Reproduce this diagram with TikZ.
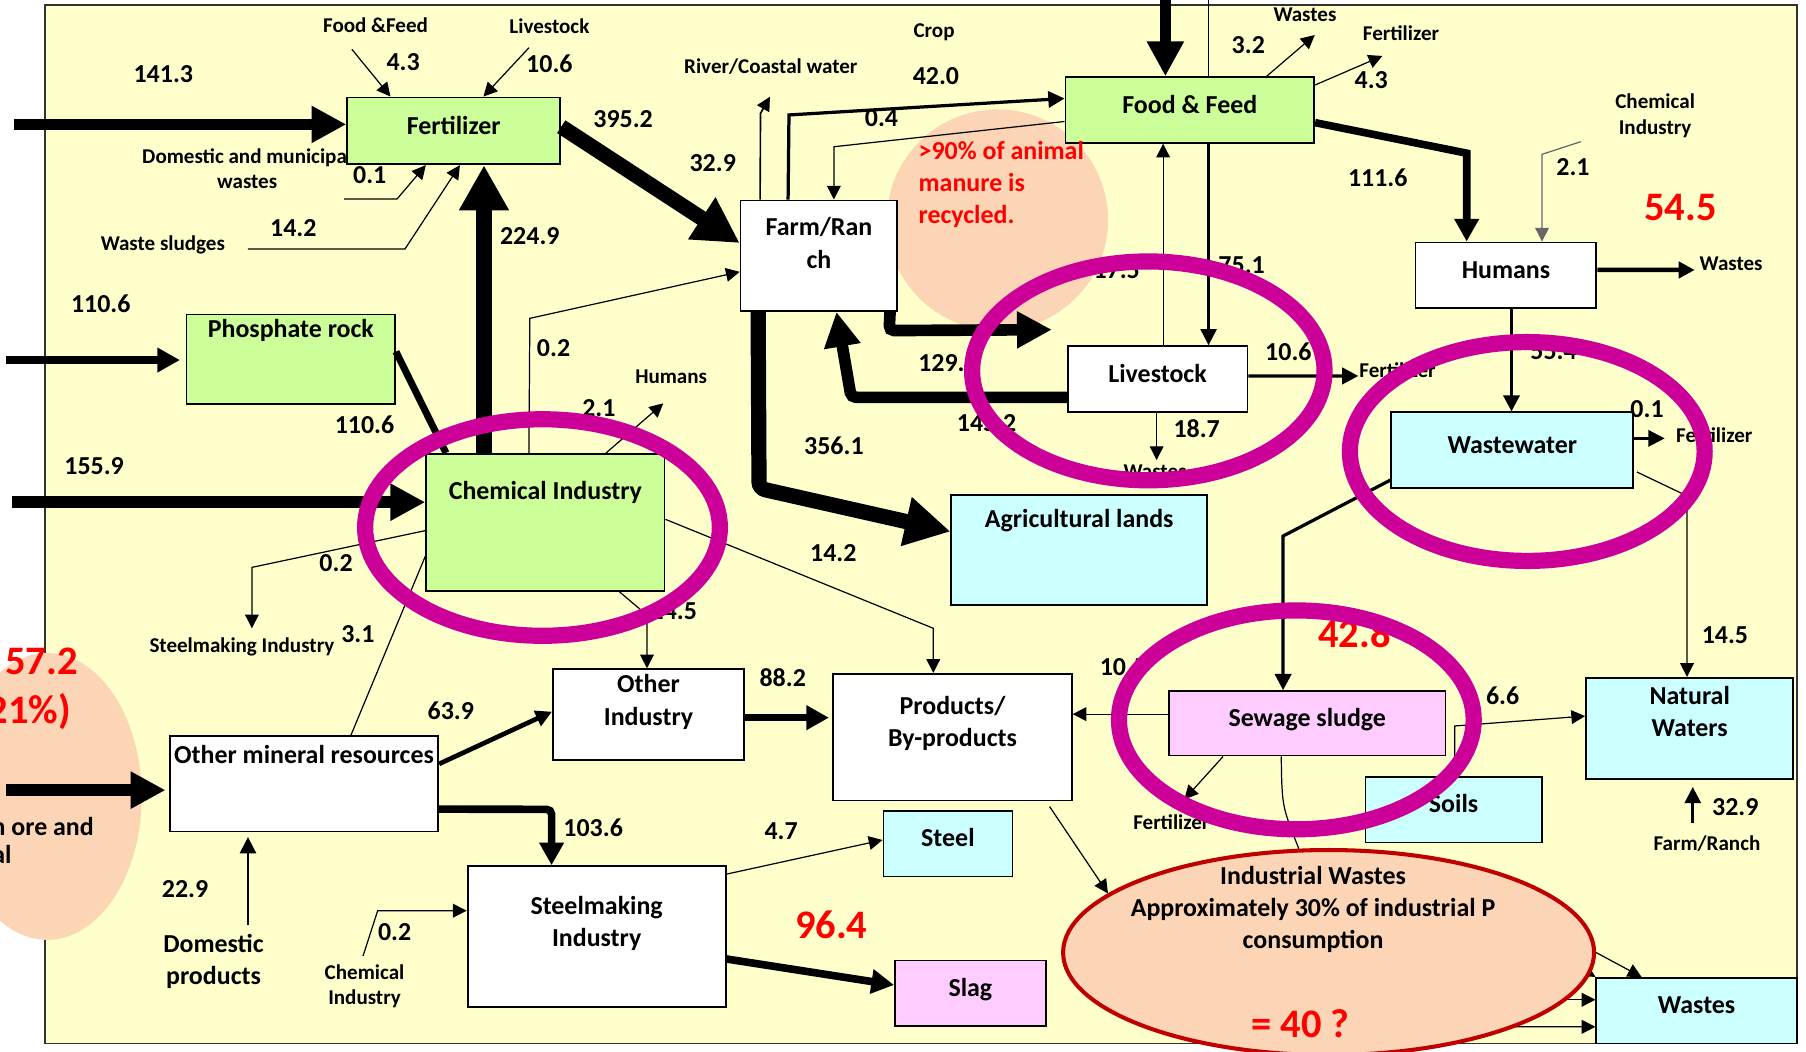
\documentclass[tikz,border=0pt]{standalone}
\usepackage{fontspec}
\setmainfont{Carlito}
\usetikzlibrary{arrows.meta, positioning, calc, shapes.geometric}

\definecolor{bgyellow}{HTML}{FFFFCC}
\definecolor{boxgreen}{HTML}{CCFF99}
\definecolor{boxcyan}{HTML}{CCFFFF}
\definecolor{boxpink}{HTML}{FFCCFF}
\definecolor{peach}{HTML}{FBD5B5}
\definecolor{ringmag}{HTML}{CC0099}
\definecolor{darkred}{HTML}{C00000}

\newcommand{\pNodeFont}{\fontsize{16}{19.9}\selectfont\bfseries}
\newcommand{\pTagFont}{\fontsize{13}{15.6}\selectfont\bfseries}
\newcommand{\pHotFont}{\fontsize{25}{30}\selectfont\bfseries}

\begin{document}
\begin{tikzpicture}[
  x=0.025cm, y=-0.025cm,
  sz/.style 2 args={minimum width=#1*0.025cm, minimum height=#2*0.025cm},
  box/.style={rectangle, draw, line width=1.1pt, inner sep=0pt, align=center, font=\pNodeFont, text height=11pt, text depth=7pt},
  greenbox/.style={box, fill=boxgreen},
  cyanbox/.style={box, fill=boxcyan},
  pinkbox/.style={box, fill=boxpink},
  whitebox/.style={box, fill=white},
  num/.style={inner sep=0pt, align=center, font=\pNodeFont},
  tag/.style={inner sep=0pt, align=center, font=\pTagFont},
  hot/.style={inner sep=0pt, text=red, font=\pHotFont},
  thinline/.style={line width=0.75pt},
  thickline/.style={line width=4.3pt},
  thinarrow/.style={line width=0.75pt, -{Triangle[length=8.5pt, width=8.5pt]}},
  medarrow/.style={line width=2pt, -{Triangle[length=10pt, width=10pt]}},
  thickarrow/.style={line width=4.7pt, -{Triangle[length=14pt, width=14.5pt]}},
  heavyarrow/.style={line width=7.2pt, -{Triangle[length=21.5pt, width=21.5pt]}},
  hugearrow/.style={line width=9.4pt, -{Triangle[length=28pt, width=29pt]}},
  ring/.style={draw=ringmag, line width=10pt}
]
\useasboundingbox (0,0) rectangle (1568,913);

% Background
\draw[fill=bgyellow, draw=black!80, line width=1.2pt] (39,4) rectangle (1560,906);
\fill[peach] (866,191) circle [radius=96];
\fill[peach] (41,691.5) ellipse [x radius=82, y radius=124.5];

\node[tag] (tDomWaste) at (214.6,146.5) {Domestic and municipal\\wastes};

% Boxes
\node[greenbox, sz={185}{58}] (fert) at (394,113.6) {Fertilizer};
\node[greenbox, sz={181}{78}] (phos) at (252.5,312) {};
\node[greenbox, sz={207}{119}] (chem) at (473.5,453.5) {};
\node[whitebox, sz={136}{96}] (farm) at (711,222) {};
\node[greenbox, sz={216}{57}] (food) at (1033,95.5) {Food \& Feed};
\node[whitebox, sz={156}{57}] (live) at (1005,329) {Livestock};
\node[whitebox, sz={157}{57}] (hum) at (1307.5,239) {Humans};
\node[cyanbox, sz={210}{66}] (ww) at (1313,391) {Wastewater};
\node[cyanbox, sz={222}{95}] (agri) at (937,477.5) {};
\node[pinkbox, sz={240}{56}] (sew) at (1135,628) {Sewage sludge};
\node[cyanbox, sz={180}{88}] (nat) at (1467,632.5) {};
\node[cyanbox, sz={153}{57}] (soil) at (1262,703) {Soils};
\node[whitebox, sz={207}{110}] (prod) at (827,640) {};
\node[whitebox, sz={166}{79}] (oind) at (563,620.5) {};
\node[whitebox, sz={233}{83}] (omr) at (264,680.5) {};
\node[whitebox, sz={224}{122}] (smind) at (518,813) {};
\node[cyanbox, sz={112}{57}] (steel) at (823,732.5) {Steel};
\node[pinkbox, sz={131}{57}] (slag) at (842.5,862.5) {Slag};
\node[cyanbox, sz={174}{57}] (wst) at (1473,877.5) {Wastes};

% Box texts set near the top
\node[num] (tPhos) at ($(phos.north)+(0,15)$) {Phosphate rock};
\node[num] (tChem) at ($(chem.north)+(0,34)$) {Chemical Industry};
\node[num] (tFarm) at ($(farm.north)+(0,37.7)$) {Farm/Ran\\ch};
\node[num] (tAgri) at ($(agri.north)+(0,23)$) {Agricultural lands};
\node[num] (tNat) at ($(nat.north)+(0,29.8)$) {Natural\\Waters};
\node[num] (tProd) at ($(prod.north)+(0,43.8)$) {Products/\\By-products};
\node[num] (tOind) at ($(oind.north)+(0,29.2)$) {Other\\Industry};
\node[num] (tOmr) at ($(omr.north)+(0,16.5)$) {Other mineral resources};
\node[num] (tSmind) at ($(smind.north)+(0,50.3)$) {Steelmaking\\Industry};

% Labels
\node[num] (v1413) at (141.8,64.2) {141.3};
\node[tag] (tFF) at (326,21.7) {Food \&Feed};
\node[num] (v43a) at (350,53.5) {4.3};
\node[tag] (tLs) at (477,23) {Livestock};
\node[num] (v106a) at (477,55.6) {10.6};
\node[num] (v01a) at (321,152) {0.1};
\node[tag] (tWS) at (141.4,212.7) {Waste sludges};
\node[num] (v142a) at (254.7,198.2) {14.2};
\node[num] (v2249) at (460,205) {224.9};
\node[num] (v3952) at (541,103) {395.2};
\node[num] (v1106a) at (87.5,263.3) {110.6};
\node[num] (v1106b) at (316.5,369) {110.6};
\node[num] (v1559) at (81.7,404.6) {155.9};
\node[num] (v02a) at (480.6,302.4) {0.2};
\node[num] (v21a) at (520,354.5) {2.1};
\node[tag] (tHum) at (582.7,327) {Humans};
\node[num] (v02b) at (291.8,489) {0.2};
\node[tag] (tSI) at (210,561.4) {Steelmaking Industry};
\node[num] (v31) at (310.7,550.5) {3.1};
\node[num] (v145a) at (585,531) {14.5};
\node[num] (v142b) at (723.5,480.4) {14.2};
\node[tag] (tRiver) at (669.2,57.9) {River/Coastal water};
\node[num] (v329a) at (618.8,141.8) {32.9};
\node[tag] (tCrop) at (811,28.4) {Crop};
\node[num] (v420) at (812.6,66) {42.0};
\node[num] (v04) at (765.3,102.7) {0.4};
\node[num] (v3561) at (724,387) {356.1};
\node[num, anchor=west] (v129) at (797,315) {129.5};
\node[num] (v14x2) at (856.6,367.5) {145.2};
\node[num] (v175) at (969.5,234.4) {17.5};
\node[num] (v751) at (1078,230) {75.1};
\node[tag] (tWa) at (1133,13) {Wastes};
\node[num] (v32) at (1083.8,39) {3.2};
\node[tag] (tFa) at (1216.4,29) {Fertilizer};
\node[num] (v43b) at (1190.5,69.5) {4.3};
\node[num] (v1116) at (1196.2,154) {111.6};
\node[tag] (tChemR) at (1437,100.5) {Chemical\\Industry};
\node[num] (v21b) at (1365.7,144.7) {2.1};
\node[tag] (tWb) at (1503,229) {Wastes};
\node[num] (v106b) at (1118.6,305.3) {10.6};
\node[tag, anchor=west] (tFb) at (1180,321.2) {Fertilizer};
\node[num] (v187) at (1039,372.5) {18.7};
\node[tag] (tWc) at (1002.8,409.5) {Wastes};
\node[num] (v554) at (1348.8,305.3) {55.4};
\node[num] (v01b) at (1430,355.4) {0.1};
\node[tag, anchor=west] (tFc) at (1455,377.7) {Fertilizer};
\node[hot] (v428) at (1176,549.9) {42.8};
\node[num] (v145b) at (1497.6,551.3) {14.5};
\node[num, anchor=west] (v105) at (954.6,578.8) {10.5};
\node[num] (v66) at (1304.6,604.3) {6.6};
\node[tag] (tFd) at (1017,713.4) {Fertilizer};
\node[num] (v329b) at (1506.6,700.4) {32.9};
\node[tag] (tFR) at (1482,732.2) {Farm/Ranch};
\node[num] (v882) at (679.6,588) {88.2};
\node[num] (v639) at (391.4,617) {63.9};
\node[num] (v1036) at (515,718.5) {103.6};
\node[num] (v229) at (160.7,772.1) {22.9};
\node[num] (tDomProd) at (185.4,834.5) {Domestic\\products};
\node[tag] (tChemB) at (316.5,856.3) {Chemical\\Industry};
\node[num] (v02c) at (342.6,808.9) {0.2};
\node[num] (v47) at (678.2,722) {4.7};
\node[hot] (v964) at (721.7,803) {96.4};
\node[hot] (v545) at (1459,180) {54.5};
\node[hot, anchor=east] (v572) at (67.7,574.5) {57.2};
\node[hot, anchor=east] (v21p) at (61.8,617.9) {21\%)};
\node[num, anchor=east] (tIron) at (81.7,717.7) {n ore and};
\node[num, anchor=east] (tAl) at (10.3,742.3) {al};
\node[num, text=red, align=left, anchor=west] (tManure) at (797.3,160) {>90\% of animal\\manure is\\recycled.};

% Inputs from the left
\coordinate (inF) at (12,108);
\coordinate (inP) at (5,312.6);
\coordinate (inC) at (10,436);
\coordinate (inO) at (5,686);
\draw[heavyarrow] (inF) -- (inF -| fert.west);
\draw[thickarrow] (inP) -- ($(inP -| phos.west)+(-5,0)$);
\draw[heavyarrow] (inC) -- (inC -| chem.west);
\draw[heavyarrow] (inO) -- ($(inO -| omr.west)+(-3,0)$);

% Into fertilizer
\coordinate (ffIn) at (305.5,42.8);
\coordinate (lsIn) at (459.3,41.4);
\coordinate (dmIn) at (298.7,172.8);
\coordinate (wsIn) at (215.3,216.2);
\draw[thinarrow] (ffIn) -- ($(fert.north west)+(38.3,0)$);
\draw[thinarrow] (lsIn) -- ($(fert.north west)+(119,0)$);
\draw[thinarrow] (dmIn) -- (344.7,172.8) -- ($(fert.south west)+(69,0)$);
\draw[thinarrow] (wsIn) -- (351.6,216.2) -- ($(fert.south west)+(98.6,0)$);
\draw[hugearrow] ($(chem.north)+(-53.3,0)$) coordinate (c2249) -- (c2249 |- fert.south);
\draw[hugearrow] ($(fert.east)+(0,-3.6)$) -- ($(farm.west)+(0,-11)$);
\draw[thickline] ($(phos.east)+(0,-6.7)$) -- ($(chem.north west)+(18,0)$);

% Out of the chemical industry
\coordinate (humOut) at (575.9,350.2);
\coordinate (smOut) at (218.7,545.5);
\draw[thinarrow] ($(chem.north west)+(90,0)$) -- (460,276.4) -- ($(farm.west)+(0,14)$);
\draw[thinarrow] ($(chem.north west)+(157,0)$) -- (humOut);
\draw[thinarrow] ($(chem.west)+(0,7.2)$) -- (218.7,492.6) -- (smOut);
\draw[thinline] ($(omr.north west)+(158,0)$) -- ($(chem.west)+(0,29.5)$);
\draw[thinarrow] ($(chem.south east)+(-40,0)$) -- (561.7,534) coordinate (b145) -- (b145 |- oind.north);
\draw[thinarrow] ($(chem.east)+(0,-2.6)$) -- (810.3,545.5) coordinate (b142) -- (b142 |- prod.north);

% Farm/Ranch
\coordinate (rivOut) at (668.5,84);
\draw[medarrow] ($(farm.north west)+(42,0)$) -- (685,99.8) -- ($(food.west)+(0,-10)$);
\draw[thinarrow] ($(food.west)+(0,10)$) -- (724,127.4) coordinate (b04) -- (b04 |- farm.north);
\draw[thinarrow, line width=1pt] ($(farm.north west)+(17.7,0)$) -- (660.3,98.4) -- (rivOut);
\draw[hugearrow, rounded corners=4pt] ($(farm.south west)+(16,0)$) -- (659,424) -- ($(agri.west)+(0,-16)$);
\draw[heavyarrow, rounded corners=3pt] ($(farm.south east)+(-7,0)$) -- (772,287) -- ($(live.north west)+(-13,-13.5)$);
\draw[heavyarrow, rounded corners=3pt] ($(live.west)+(0,16)$) -- (739,345) -- ($(farm.south west)+(84,0)$);

% Food & Feed and Livestock
\coordinate (top751) at (1049.3,-2);
\coordinate (topFF) at (1011.8,-2);
\draw[heavyarrow] (topFF) -- (topFF |- food.north);
\draw[thinline] (top751) -- (top751 |- food.north);
\draw[medarrow, line width=1.4pt] (top751 |- food.south) -- (top751 |- live.north);
\draw[thinarrow] ($(live.north west)+(83.6,0)$) coordinate (s175) -- (s175 |- food.south);
\coordinate (ws32) at (1141.5,30.4);
\coordinate (fz43) at (1200.2,48.6);
\draw[thinarrow] ($(food.north west)+(175.5,0)$) -- (ws32);
\draw[thinarrow] ($(food.east)+(0,-21.7)$) -- (fz43);
\draw[thickarrow] ($(food.east)+(0,11)$) -- (1273.4,133) coordinate (b1116) -- (b1116 |- hum.north);

% Humans
\coordinate (chR) at (1372.4,123);
\coordinate (hwOut) at (1471.4,234.4);
\draw[thinarrow, draw=black!60] (chR) -- (1338.8,134) coordinate (b21) -- (b21 |- hum.north);
\draw[medarrow, line width=2.8pt] ($(hum.east)+(0,-4.6)$) -- (hwOut);
\draw[medarrow] ($(hum.south)+(4.8,0)$) coordinate (s554) -- (s554 |- ww.north);

% Livestock outputs
\coordinate (lfOut) at (1179.4,326.4);
\coordinate (lwOut) at (1004.2,399.4);
\draw[medarrow] ($(live.east)+(0,-2.6)$) -- (lfOut);
\draw[thinarrow] (lwOut |- live.south) -- (lwOut);

% Wastewater outputs
\coordinate (wfOut) at (1445.3,380.6);
\draw[medarrow, line width=1.4pt] (wfOut -| ww.east) -- (wfOut);
\draw[medarrow] ($(ww.south west)+(0,-8)$) -- (1114,465.4) coordinate (b428) -- (b428 |- sew.north);
\draw[thinarrow] ($(ww.south east)+(2.4,-15)$) -- (1464.7,430.6) coordinate (b145n) -- (b145n |- nat.north);

% Sewage sludge and soils
\coordinate (sfOut) at (1028.3,694);
\draw[thinarrow] ($(sew.west)+(0,-8)$) coordinate (s105) -- (s105 -| prod.east);
\draw[thinarrow] ($(sew.south west)+(47.7,0)$) -- (sfOut);
\draw[thinarrow] ($(soil.north)+(1,0)$) -- (1263,630.3) -- ($(nat.west)+(0,-10.8)$);
\coordinate (frOut) at (1469.7,714.8);
\draw[medarrow, line width=1.6pt] (frOut) -- ($(frOut |- nat.south)+(0,6)$);

% Industry
\draw[thickarrow] ($(oind.east)+(0,2.6)$) coordinate (s882) -- ($(s882 -| prod.west)+(-3,0)$);
\draw[medarrow, line width=2.9pt] ($(omr.north east)+(0,25)$) -- ($(oind.west)+(0,-2.6)$);
\draw[thickarrow, rounded corners=3pt] ($(omr.east)+(0,22)$) -- (478.9,702.7) coordinate (b1036) -- (b1036 |- smind.north);
\coordinate (domOut) at (215.3,803);
\coordinate (chBot) at (315.2,830);
\draw[medarrow, line width=1.1pt] (domOut) -- ($(domOut |- omr.south)+(0,4)$);
\draw[thinarrow] (chBot) -- (327.9,790.7) -- ($(smind.west)+(0,-22.3)$);
\draw[thinarrow] ($(smind.north east)+(0,7.7)$) -- ($(steel.west)+(0,-3.2)$);
\draw[thickarrow] ($(smind.east)+(0,19.6)$) -- ($(slag.west)+(0,-7.3)$);

% Industrial wastes
\coordinate (iwB) at (1330,815);
\coordinate (iwC) at (1300,868);
\coordinate (iwD) at (1290,891.4);
\draw[thinarrow] (iwB) -- (wst.north west);
\draw[thinarrow] (iwC) -- ($(wst.west)+(0,-9.5)$);
\draw[thinarrow] (iwD) -- ($(wst.west)+(0,14)$);
\node[ellipse, draw=darkred, line width=2.5pt, fill=peach, inner sep=0pt, sz={461}{178}] (iw) at (1153.5,827) {};
\draw[thinline] ($(sew.south)+(-22.6,0)$) .. controls (1113,700) .. (iw.106);
\draw[thinarrow] ($(prod.south east)+(-20,4.5)$) -- (iw.165);
\draw[thinarrow] (iw.east) -- ($(wst.north west)+(40,0)$);
\node[num] (tIW) at (1140,789.5) {Industrial Wastes\\Approximately 30\% of industrial P\\consumption};
\node[hot] (v40) at (1129,888.5) {= 40 ?};

% Highlight rings
\draw[ring] (471,458) ellipse [x radius=154, y radius=94];
\draw[ring] (997,322) ellipse [x radius=153, y radius=95];
\draw[ring] (1326,392) ellipse [x radius=154, y radius=95];
\draw[ring] (1125.5,625) ellipse [x radius=154, y radius=95];

\end{tikzpicture}
\end{document}
